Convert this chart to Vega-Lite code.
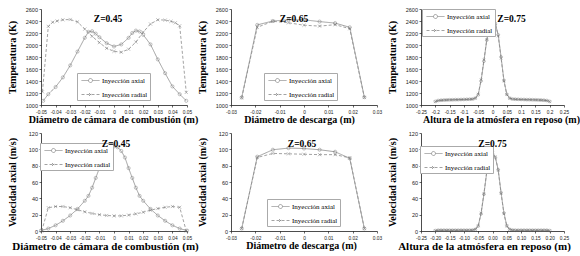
{
  "$schema": "https://vega.github.io/schema/vega-lite/v6.json",
  "padding": {"left": 7, "top": 7, "right": 0, "bottom": 0},
  "spacing": 6,
  "resolve": {"scale": {"shape": "independent", "strokeDash": "independent", "color": "independent"}, "legend": {"shape": "independent", "strokeDash": "independent", "color": "independent"}},
  "config": {
    "view": {"stroke": null},
    "font": "Liberation Serif",
    "axis": {"grid": false, "labelOverlap": false, "domainColor": "#000", "domainWidth": 0.7, "tickColor": "#000", "tickSize": 2, "tickWidth": 0.6, "labelFont": "Liberation Sans", "labelFontSize": 5.5, "labelColor": "#222", "labelPadding": 1.5, "titleFont": "Liberation Serif", "titleFontSize": 10, "titleFontWeight": "bold", "titleColor": "#000"},
    "axisY": {"minExtent": 16, "maxExtent": 16, "titlePadding": 8, "format": "d", "labelFlush": false},
    "axisX": {"labelPadding": 2.5, "titlePadding": 0.5, "labelFontSize": 4.8, "labelFlush": false},
    "title": {"font": "Liberation Serif", "fontSize": 9.5, "fontWeight": "bold", "color": "#000", "offset": -16, "anchor": "middle"},
    "legend": {"orient": "none", "title": null, "labelFont": "Liberation Serif", "labelFontSize": 7, "labelFontWeight": "normal", "labelColor": "#000", "strokeColor": "#aaa", "fillColor": "#fff", "padding": 2, "rowPadding": 4, "symbolSize": 100, "labelOffset": 12, "symbolStrokeWidth": 0.8}
  },
  "vconcat": [
    {
      "bounds": "flush",
      "spacing": 44,
      "resolve": {"scale": {"shape": "independent", "strokeDash": "independent", "color": "independent"}, "legend": {"shape": "independent", "strokeDash": "independent", "color": "independent"}},
      "hconcat": [
        {
          "width": 146, "height": 96,
          "title": {"text": "Z=0.45", "dx": -6},
          "data": {"values": [
            {"s": "Inyección axial", "x": -0.0485, "v": 1070},
            {"s": "Inyección axial", "x": -0.045, "v": 1180},
            {"s": "Inyección axial", "x": -0.04, "v": 1300},
            {"s": "Inyección axial", "x": -0.035, "v": 1460},
            {"s": "Inyección axial", "x": -0.03, "v": 1660},
            {"s": "Inyección axial", "x": -0.025, "v": 1890},
            {"s": "Inyección axial", "x": -0.02, "v": 2120},
            {"s": "Inyección axial", "x": -0.0175, "v": 2220},
            {"s": "Inyección axial", "x": -0.015, "v": 2230},
            {"s": "Inyección axial", "x": -0.0125, "v": 2190},
            {"s": "Inyección axial", "x": -0.01, "v": 2130},
            {"s": "Inyección axial", "x": -0.005, "v": 2030},
            {"s": "Inyección axial", "x": 0, "v": 1975},
            {"s": "Inyección axial", "x": 0.005, "v": 2010},
            {"s": "Inyección axial", "x": 0.01, "v": 2120},
            {"s": "Inyección axial", "x": 0.0125, "v": 2200},
            {"s": "Inyección axial", "x": 0.015, "v": 2240},
            {"s": "Inyección axial", "x": 0.0175, "v": 2225},
            {"s": "Inyección axial", "x": 0.02, "v": 2170},
            {"s": "Inyección axial", "x": 0.025, "v": 2010},
            {"s": "Inyección axial", "x": 0.03, "v": 1760},
            {"s": "Inyección axial", "x": 0.035, "v": 1530},
            {"s": "Inyección axial", "x": 0.04, "v": 1310},
            {"s": "Inyección axial", "x": 0.045, "v": 1180},
            {"s": "Inyección axial", "x": 0.0495, "v": 1070},
            {"s": "Inyección radial", "x": -0.049, "v": 1220},
            {"s": "Inyección radial", "x": -0.045, "v": 2310},
            {"s": "Inyección radial", "x": -0.042, "v": 2380},
            {"s": "Inyección radial", "x": -0.039, "v": 2400},
            {"s": "Inyección radial", "x": -0.035, "v": 2420},
            {"s": "Inyección radial", "x": -0.03, "v": 2425},
            {"s": "Inyección radial", "x": -0.025, "v": 2385},
            {"s": "Inyección radial", "x": -0.02, "v": 2265},
            {"s": "Inyección radial", "x": -0.015, "v": 2145},
            {"s": "Inyección radial", "x": -0.01, "v": 2040},
            {"s": "Inyección radial", "x": -0.005, "v": 1945},
            {"s": "Inyección radial", "x": 0, "v": 1895},
            {"s": "Inyección radial", "x": 0.005, "v": 1880},
            {"s": "Inyección radial", "x": 0.01, "v": 1930},
            {"s": "Inyección radial", "x": 0.015, "v": 2050},
            {"s": "Inyección radial", "x": 0.02, "v": 2215},
            {"s": "Inyección radial", "x": 0.025, "v": 2350},
            {"s": "Inyección radial", "x": 0.03, "v": 2420},
            {"s": "Inyección radial", "x": 0.035, "v": 2415},
            {"s": "Inyección radial", "x": 0.039, "v": 2395},
            {"s": "Inyección radial", "x": 0.042, "v": 2370},
            {"s": "Inyección radial", "x": 0.045, "v": 2320},
            {"s": "Inyección radial", "x": 0.0495, "v": 1210}
          ]},
          "encoding": {
            "x": {"field": "x", "type": "quantitative", "scale": {"domain": [-0.05, 0.05], "nice": false}, "axis": {"values": [-0.05, -0.04, -0.03, -0.02, -0.01, 0, 0.01, 0.02, 0.03, 0.04, 0.05], "labelExpr": "toString(datum.value)", "title": "Diámetro de cámara de combustión (m)", "titleX": 72}},
            "y": {"field": "v", "type": "quantitative", "scale": {"domain": [1000, 2600], "nice": false, "zero": false}, "axis": {"values": [1000, 1200, 1400, 1600, 1800, 2000, 2200, 2400, 2600], "title": "Temperatura (K)"}}
          },
          "layer": [
            {"mark": {"type": "line", "strokeWidth": 0.8}, "encoding": {
              "color": {"field": "s", "type": "nominal", "scale": {"domain": ["Inyección axial", "Inyección radial"], "range": ["#8a8a8a", "#8a8a8a"]}, "legend": {"legendX": 36, "legendY": 64, "encode": {"symbols": {"update": {"shape": {"signal": "indexof(datum.value, 'radial') >= 0 ? 'M-0.6,0H3M0.9,-0.3L1.5,0.3M0.9,0.3L1.5,-0.3' : 'M-0.6,0H0.8M1.6,0H3M0.8,0A0.4,0.4,0,1,0,1.6,0A0.4,0.4,0,1,0,0.8,0'"}, "strokeDash": {"signal": "indexof(datum.value, 'radial') >= 0 ? [3, 2] : [1, 0]"}, "fill": {"value": "transparent"}}}}}},
              "strokeDash": {"field": "s", "type": "nominal", "scale": {"range": [[1, 0], [3, 2]]}, "legend": null}}},
            {"mark": {"type": "point", "size": 10, "strokeWidth": 0.6, "color": "#6a6a6a"}, "encoding": {"shape": {"field": "s", "type": "nominal", "scale": {"range": ["circle", "M-1,-1L1,1M-1,1L1,-1"]}, "legend": null}}}
          ]
        },
        {
          "width": 146, "height": 96,
          "title": {"text": "Z=0.65", "dx": -10},
          "data": {"values": [
            {"s": "Inyección axial", "x": -0.0256, "v": 1125},
            {"s": "Inyección axial", "x": -0.0192, "v": 2335},
            {"s": "Inyección axial", "x": -0.0128, "v": 2400},
            {"s": "Inyección axial", "x": -0.0064, "v": 2420},
            {"s": "Inyección axial", "x": 0, "v": 2420},
            {"s": "Inyección axial", "x": 0.0064, "v": 2390},
            {"s": "Inyección axial", "x": 0.0128, "v": 2365},
            {"s": "Inyección axial", "x": 0.0188, "v": 2295},
            {"s": "Inyección axial", "x": 0.0248, "v": 1130},
            {"s": "Inyección radial", "x": -0.0256, "v": 1120},
            {"s": "Inyección radial", "x": -0.0192, "v": 2295},
            {"s": "Inyección radial", "x": -0.0128, "v": 2395},
            {"s": "Inyección radial", "x": -0.0064, "v": 2370},
            {"s": "Inyección radial", "x": 0, "v": 2330},
            {"s": "Inyección radial", "x": 0.0064, "v": 2315},
            {"s": "Inyección radial", "x": 0.0128, "v": 2338},
            {"s": "Inyección radial", "x": 0.0188, "v": 2272},
            {"s": "Inyección radial", "x": 0.0248, "v": 1125}
          ]},
          "encoding": {
            "x": {"field": "x", "type": "quantitative", "scale": {"domain": [-0.03, 0.03], "nice": false}, "axis": {"values": [-0.03, -0.02, -0.01, 0, 0.01, 0.02, 0.03], "labelExpr": "toString(datum.value)", "title": "Diámetro de descarga (m)", "titleX": 68}},
            "y": {"field": "v", "type": "quantitative", "scale": {"domain": [1000, 2600], "nice": false, "zero": false}, "axis": {"values": [1000, 1200, 1400, 1600, 1800, 2000, 2200, 2400, 2600], "title": "Temperatura (K)"}}
          },
          "layer": [
            {"mark": {"type": "line", "strokeWidth": 0.8}, "encoding": {
              "color": {"field": "s", "type": "nominal", "scale": {"domain": ["Inyección axial", "Inyección radial"], "range": ["#8a8a8a", "#8a8a8a"]}, "legend": {"legendX": 33, "legendY": 64, "encode": {"symbols": {"update": {"shape": {"signal": "indexof(datum.value, 'radial') >= 0 ? 'M-0.6,0H3M0.9,-0.3L1.5,0.3M0.9,0.3L1.5,-0.3' : 'M-0.6,0H0.8M1.6,0H3M0.8,0A0.4,0.4,0,1,0,1.6,0A0.4,0.4,0,1,0,0.8,0'"}, "strokeDash": {"signal": "indexof(datum.value, 'radial') >= 0 ? [3, 2] : [1, 0]"}, "fill": {"value": "transparent"}}}}}},
              "strokeDash": {"field": "s", "type": "nominal", "scale": {"range": [[1, 0], [3, 2]]}, "legend": null}}},
            {"mark": {"type": "point", "size": 10, "strokeWidth": 0.6, "color": "#6a6a6a"}, "encoding": {"shape": {"field": "s", "type": "nominal", "scale": {"range": ["circle", "M-1,-1L1,1M-1,1L1,-1"]}, "legend": null}}}
          ]
        },
        {
          "width": 143, "height": 96,
          "title": {"text": "Z=0.75", "dx": 19},
          "data": {"values": [
            {"s": "Inyección axial", "x": -0.2, "v": 1060},
            {"s": "Inyección axial", "x": -0.19, "v": 1075},
            {"s": "Inyección axial", "x": -0.18, "v": 1080},
            {"s": "Inyección axial", "x": -0.17, "v": 1083},
            {"s": "Inyección axial", "x": -0.16, "v": 1085},
            {"s": "Inyección axial", "x": -0.15, "v": 1087},
            {"s": "Inyección axial", "x": -0.14, "v": 1088},
            {"s": "Inyección axial", "x": -0.13, "v": 1090},
            {"s": "Inyección axial", "x": -0.12, "v": 1090},
            {"s": "Inyección axial", "x": -0.11, "v": 1092},
            {"s": "Inyección axial", "x": -0.1, "v": 1093},
            {"s": "Inyección axial", "x": -0.09, "v": 1095},
            {"s": "Inyección axial", "x": -0.08, "v": 1097},
            {"s": "Inyección axial", "x": -0.07, "v": 1100},
            {"s": "Inyección axial", "x": -0.06, "v": 1115},
            {"s": "Inyección axial", "x": -0.05, "v": 1170},
            {"s": "Inyección axial", "x": -0.04, "v": 1400},
            {"s": "Inyección axial", "x": -0.03, "v": 1730},
            {"s": "Inyección axial", "x": -0.02, "v": 2080},
            {"s": "Inyección axial", "x": -0.01, "v": 2320},
            {"s": "Inyección axial", "x": -0.005, "v": 2390},
            {"s": "Inyección axial", "x": 0, "v": 2420},
            {"s": "Inyección axial", "x": 0.005, "v": 2405},
            {"s": "Inyección axial", "x": 0.01, "v": 2350},
            {"s": "Inyección axial", "x": 0.02, "v": 2170},
            {"s": "Inyección axial", "x": 0.03, "v": 1800},
            {"s": "Inyección axial", "x": 0.04, "v": 1410},
            {"s": "Inyección axial", "x": 0.05, "v": 1180},
            {"s": "Inyección axial", "x": 0.06, "v": 1115},
            {"s": "Inyección axial", "x": 0.07, "v": 1100},
            {"s": "Inyección axial", "x": 0.08, "v": 1097},
            {"s": "Inyección axial", "x": 0.09, "v": 1095},
            {"s": "Inyección axial", "x": 0.1, "v": 1093},
            {"s": "Inyección axial", "x": 0.11, "v": 1092},
            {"s": "Inyección axial", "x": 0.12, "v": 1090},
            {"s": "Inyección axial", "x": 0.13, "v": 1090},
            {"s": "Inyección axial", "x": 0.14, "v": 1088},
            {"s": "Inyección axial", "x": 0.15, "v": 1087},
            {"s": "Inyección axial", "x": 0.16, "v": 1085},
            {"s": "Inyección axial", "x": 0.17, "v": 1083},
            {"s": "Inyección axial", "x": 0.18, "v": 1080},
            {"s": "Inyección axial", "x": 0.19, "v": 1075},
            {"s": "Inyección axial", "x": 0.2, "v": 1060},
            {"s": "Inyección radial", "x": -0.2, "v": 1055},
            {"s": "Inyección radial", "x": -0.19, "v": 1072},
            {"s": "Inyección radial", "x": -0.18, "v": 1077},
            {"s": "Inyección radial", "x": -0.17, "v": 1080},
            {"s": "Inyección radial", "x": -0.16, "v": 1082},
            {"s": "Inyección radial", "x": -0.15, "v": 1084},
            {"s": "Inyección radial", "x": -0.14, "v": 1085},
            {"s": "Inyección radial", "x": -0.13, "v": 1087},
            {"s": "Inyección radial", "x": -0.12, "v": 1087},
            {"s": "Inyección radial", "x": -0.11, "v": 1089},
            {"s": "Inyección radial", "x": -0.1, "v": 1090},
            {"s": "Inyección radial", "x": -0.09, "v": 1092},
            {"s": "Inyección radial", "x": -0.08, "v": 1094},
            {"s": "Inyección radial", "x": -0.07, "v": 1097},
            {"s": "Inyección radial", "x": -0.06, "v": 1112},
            {"s": "Inyección radial", "x": -0.05, "v": 1180},
            {"s": "Inyección radial", "x": -0.04, "v": 1420},
            {"s": "Inyección radial", "x": -0.03, "v": 1750},
            {"s": "Inyección radial", "x": -0.02, "v": 2090},
            {"s": "Inyección radial", "x": -0.01, "v": 2310},
            {"s": "Inyección radial", "x": -0.005, "v": 2370},
            {"s": "Inyección radial", "x": 0, "v": 2385},
            {"s": "Inyección radial", "x": 0.005, "v": 2390},
            {"s": "Inyección radial", "x": 0.01, "v": 2360},
            {"s": "Inyección radial", "x": 0.02, "v": 2150},
            {"s": "Inyección radial", "x": 0.03, "v": 1780},
            {"s": "Inyección radial", "x": 0.04, "v": 1400},
            {"s": "Inyección radial", "x": 0.05, "v": 1175},
            {"s": "Inyección radial", "x": 0.06, "v": 1112},
            {"s": "Inyección radial", "x": 0.07, "v": 1097},
            {"s": "Inyección radial", "x": 0.08, "v": 1094},
            {"s": "Inyección radial", "x": 0.09, "v": 1092},
            {"s": "Inyección radial", "x": 0.1, "v": 1090},
            {"s": "Inyección radial", "x": 0.11, "v": 1089},
            {"s": "Inyección radial", "x": 0.12, "v": 1087},
            {"s": "Inyección radial", "x": 0.13, "v": 1087},
            {"s": "Inyección radial", "x": 0.14, "v": 1085},
            {"s": "Inyección radial", "x": 0.15, "v": 1084},
            {"s": "Inyección radial", "x": 0.16, "v": 1082},
            {"s": "Inyección radial", "x": 0.17, "v": 1080},
            {"s": "Inyección radial", "x": 0.18, "v": 1077},
            {"s": "Inyección radial", "x": 0.19, "v": 1072},
            {"s": "Inyección radial", "x": 0.2, "v": 1055}
          ]},
          "encoding": {
            "x": {"field": "x", "type": "quantitative", "scale": {"domain": [-0.25, 0.25], "nice": false}, "axis": {"values": [-0.25, -0.2, -0.15, -0.1, -0.05, 0, 0.05, 0.1, 0.15, 0.2, 0.25], "labelExpr": "toString(datum.value)", "title": "Altura de la atmósfera en reposo (m)", "titleX": 80}},
            "y": {"field": "v", "type": "quantitative", "scale": {"domain": [1000, 2600], "nice": false, "zero": false}, "axis": {"values": [1000, 1200, 1400, 1600, 1800, 2000, 2200, 2400, 2600], "title": "Temperatura (K)"}}
          },
          "layer": [
            {"mark": {"type": "line", "strokeWidth": 0.8}, "encoding": {
              "color": {"field": "s", "type": "nominal", "scale": {"domain": ["Inyección axial", "Inyección radial"], "range": ["#8a8a8a", "#8a8a8a"]}, "legend": {"legendX": 1, "legendY": 0, "encode": {"symbols": {"update": {"shape": {"signal": "indexof(datum.value, 'radial') >= 0 ? 'M-0.6,0H3M0.9,-0.3L1.5,0.3M0.9,0.3L1.5,-0.3' : 'M-0.6,0H0.8M1.6,0H3M0.8,0A0.4,0.4,0,1,0,1.6,0A0.4,0.4,0,1,0,0.8,0'"}, "strokeDash": {"signal": "indexof(datum.value, 'radial') >= 0 ? [3, 2] : [1, 0]"}, "fill": {"value": "transparent"}}}}}},
              "strokeDash": {"field": "s", "type": "nominal", "scale": {"range": [[1, 0], [3, 2]]}, "legend": null}}},
            {"mark": {"type": "point", "size": 8, "strokeWidth": 0.5, "color": "#6a6a6a"}, "encoding": {"shape": {"field": "s", "type": "nominal", "scale": {"range": ["circle", "M-1,-1L1,1M-1,1L1,-1"]}, "legend": null}}}
          ]
        }
      ]
    },
    {
      "bounds": "flush",
      "spacing": 44,
      "resolve": {"scale": {"shape": "independent", "strokeDash": "independent", "color": "independent"}, "legend": {"shape": "independent", "strokeDash": "independent", "color": "independent"}},
      "hconcat": [
        {
          "width": 146, "height": 98,
          "title": {"text": "Z=0.45", "dx": 2, "offset": -17},
          "data": {"values": [
            {"s": "Inyección axial", "x": -0.05, "v": 0.5},
            {"s": "Inyección axial", "x": -0.045, "v": 3},
            {"s": "Inyección axial", "x": -0.04, "v": 7},
            {"s": "Inyección axial", "x": -0.035, "v": 12.5},
            {"s": "Inyección axial", "x": -0.03, "v": 19},
            {"s": "Inyección axial", "x": -0.025, "v": 27},
            {"s": "Inyección axial", "x": -0.02, "v": 37},
            {"s": "Inyección axial", "x": -0.0175, "v": 43},
            {"s": "Inyección axial", "x": -0.015, "v": 53},
            {"s": "Inyección axial", "x": -0.0125, "v": 65},
            {"s": "Inyección axial", "x": -0.01, "v": 77},
            {"s": "Inyección axial", "x": -0.0075, "v": 90},
            {"s": "Inyección axial", "x": -0.005, "v": 98},
            {"s": "Inyección axial", "x": -0.0025, "v": 102.5},
            {"s": "Inyección axial", "x": 0, "v": 103.5},
            {"s": "Inyección axial", "x": 0.0025, "v": 102.5},
            {"s": "Inyección axial", "x": 0.005, "v": 98},
            {"s": "Inyección axial", "x": 0.0075, "v": 90},
            {"s": "Inyección axial", "x": 0.01, "v": 77},
            {"s": "Inyección axial", "x": 0.0125, "v": 65},
            {"s": "Inyección axial", "x": 0.015, "v": 53},
            {"s": "Inyección axial", "x": 0.0175, "v": 43},
            {"s": "Inyección axial", "x": 0.02, "v": 37},
            {"s": "Inyección axial", "x": 0.025, "v": 27},
            {"s": "Inyección axial", "x": 0.03, "v": 19},
            {"s": "Inyección axial", "x": 0.035, "v": 12.5},
            {"s": "Inyección axial", "x": 0.04, "v": 7},
            {"s": "Inyección axial", "x": 0.045, "v": 3},
            {"s": "Inyección axial", "x": 0.05, "v": 0.5},
            {"s": "Inyección radial", "x": -0.0495, "v": 0},
            {"s": "Inyección radial", "x": -0.045, "v": 28.5},
            {"s": "Inyección radial", "x": -0.04, "v": 30},
            {"s": "Inyección radial", "x": -0.035, "v": 30},
            {"s": "Inyección radial", "x": -0.03, "v": 28.5},
            {"s": "Inyección radial", "x": -0.025, "v": 26},
            {"s": "Inyección radial", "x": -0.02, "v": 23.5},
            {"s": "Inyección radial", "x": -0.015, "v": 21.5},
            {"s": "Inyección radial", "x": -0.01, "v": 20},
            {"s": "Inyección radial", "x": -0.005, "v": 19},
            {"s": "Inyección radial", "x": 0, "v": 18.5},
            {"s": "Inyección radial", "x": 0.005, "v": 18.5},
            {"s": "Inyección radial", "x": 0.01, "v": 19.5},
            {"s": "Inyección radial", "x": 0.015, "v": 21},
            {"s": "Inyección radial", "x": 0.02, "v": 23},
            {"s": "Inyección radial", "x": 0.025, "v": 25.5},
            {"s": "Inyección radial", "x": 0.03, "v": 27.5},
            {"s": "Inyección radial", "x": 0.035, "v": 29},
            {"s": "Inyección radial", "x": 0.04, "v": 30},
            {"s": "Inyección radial", "x": 0.045, "v": 29},
            {"s": "Inyección radial", "x": 0.0495, "v": 0}
          ]},
          "encoding": {
            "x": {"field": "x", "type": "quantitative", "scale": {"domain": [-0.05, 0.05], "nice": false}, "axis": {"values": [-0.05, -0.04, -0.03, -0.02, -0.01, 0, 0.01, 0.02, 0.03, 0.04, 0.05], "labelExpr": "toString(datum.value)", "title": "Diámetro de cámara de combustión (m)", "titleX": 64, "titleFontSize": 11}},
            "y": {"field": "v", "type": "quantitative", "scale": {"domain": [0, 120], "nice": false}, "axis": {"values": [0, 20, 40, 60, 80, 100, 120], "title": "Velocidad axial (m/s)"}}
          },
          "layer": [
            {"mark": {"type": "line", "strokeWidth": 0.8}, "encoding": {
              "color": {"field": "s", "type": "nominal", "scale": {"domain": ["Inyección axial", "Inyección radial"], "range": ["#8a8a8a", "#8a8a8a"]}, "legend": {"legendX": -1, "legendY": 10, "encode": {"symbols": {"update": {"shape": {"signal": "indexof(datum.value, 'radial') >= 0 ? 'M-0.6,0H3M0.9,-0.3L1.5,0.3M0.9,0.3L1.5,-0.3' : 'M-0.6,0H0.8M1.6,0H3M0.8,0A0.4,0.4,0,1,0,1.6,0A0.4,0.4,0,1,0,0.8,0'"}, "strokeDash": {"signal": "indexof(datum.value, 'radial') >= 0 ? [3, 2] : [1, 0]"}, "fill": {"value": "transparent"}}}}}},
              "strokeDash": {"field": "s", "type": "nominal", "scale": {"range": [[1, 0], [3, 2]]}, "legend": null}}},
            {"mark": {"type": "point", "size": 10, "strokeWidth": 0.6, "color": "#6a6a6a"}, "encoding": {"shape": {"field": "s", "type": "nominal", "scale": {"range": ["circle", "M-1,-1L1,1M-1,1L1,-1"]}, "legend": null}}}
          ]
        },
        {
          "width": 146, "height": 98,
          "title": {"text": "Z=0.65", "dx": -2, "offset": -17},
          "data": {"values": [
            {"s": "Inyección axial", "x": -0.0256, "v": 3},
            {"s": "Inyección axial", "x": -0.0192, "v": 91},
            {"s": "Inyección axial", "x": -0.0128, "v": 99.5},
            {"s": "Inyección axial", "x": -0.0064, "v": 101.5},
            {"s": "Inyección axial", "x": 0, "v": 101},
            {"s": "Inyección axial", "x": 0.0064, "v": 99.5},
            {"s": "Inyección axial", "x": 0.0128, "v": 97},
            {"s": "Inyección axial", "x": 0.0188, "v": 89},
            {"s": "Inyección axial", "x": 0.0248, "v": 3},
            {"s": "Inyección radial", "x": -0.0256, "v": 3},
            {"s": "Inyección radial", "x": -0.0192, "v": 90},
            {"s": "Inyección radial", "x": -0.0128, "v": 95},
            {"s": "Inyección radial", "x": -0.0064, "v": 94.5},
            {"s": "Inyección radial", "x": 0, "v": 94},
            {"s": "Inyección radial", "x": 0.0064, "v": 93.5},
            {"s": "Inyección radial", "x": 0.0128, "v": 93.5},
            {"s": "Inyección radial", "x": 0.0188, "v": 89.5},
            {"s": "Inyección radial", "x": 0.0248, "v": 3}
          ]},
          "encoding": {
            "x": {"field": "x", "type": "quantitative", "scale": {"domain": [-0.03, 0.03], "nice": false}, "axis": {"values": [-0.03, -0.02, -0.01, 0, 0.01, 0.02, 0.03], "labelExpr": "toString(datum.value)", "title": "Diámetro de descarga (m)", "titleX": 70}},
            "y": {"field": "v", "type": "quantitative", "scale": {"domain": [0, 120], "nice": false}, "axis": {"values": [0, 20, 40, 60, 80, 100, 120], "title": "Velocidad axial (m/s)"}}
          },
          "layer": [
            {"mark": {"type": "line", "strokeWidth": 0.8}, "encoding": {
              "color": {"field": "s", "type": "nominal", "scale": {"domain": ["Inyección axial", "Inyección radial"], "range": ["#8a8a8a", "#8a8a8a"]}, "legend": {"legendX": 36, "legendY": 66, "encode": {"symbols": {"update": {"shape": {"signal": "indexof(datum.value, 'radial') >= 0 ? 'M-0.6,0H3M0.9,-0.3L1.5,0.3M0.9,0.3L1.5,-0.3' : 'M-0.6,0H0.8M1.6,0H3M0.8,0A0.4,0.4,0,1,0,1.6,0A0.4,0.4,0,1,0,0.8,0'"}, "strokeDash": {"signal": "indexof(datum.value, 'radial') >= 0 ? [3, 2] : [1, 0]"}, "fill": {"value": "transparent"}}}}}},
              "strokeDash": {"field": "s", "type": "nominal", "scale": {"range": [[1, 0], [3, 2]]}, "legend": null}}},
            {"mark": {"type": "point", "size": 10, "strokeWidth": 0.6, "color": "#6a6a6a"}, "encoding": {"shape": {"field": "s", "type": "nominal", "scale": {"range": ["circle", "M-1,-1L1,1M-1,1L1,-1"]}, "legend": null}}}
          ]
        },
        {
          "width": 143, "height": 98,
          "title": {"text": "Z=0.75", "dx": 0, "offset": -17},
          "data": {"values": [
            {"s": "Inyección axial", "x": -0.2, "v": 0.5},
            {"s": "Inyección axial", "x": -0.19, "v": 1},
            {"s": "Inyección axial", "x": -0.18, "v": 1},
            {"s": "Inyección axial", "x": -0.17, "v": 1},
            {"s": "Inyección axial", "x": -0.16, "v": 1},
            {"s": "Inyección axial", "x": -0.15, "v": 1},
            {"s": "Inyección axial", "x": -0.14, "v": 1},
            {"s": "Inyección axial", "x": -0.13, "v": 1},
            {"s": "Inyección axial", "x": -0.12, "v": 1},
            {"s": "Inyección axial", "x": -0.11, "v": 1},
            {"s": "Inyección axial", "x": -0.1, "v": 1},
            {"s": "Inyección axial", "x": -0.09, "v": 1},
            {"s": "Inyección axial", "x": -0.08, "v": 1},
            {"s": "Inyección axial", "x": -0.07, "v": 1.2},
            {"s": "Inyección axial", "x": -0.06, "v": 2},
            {"s": "Inyección axial", "x": -0.05, "v": 6},
            {"s": "Inyección axial", "x": -0.04, "v": 21},
            {"s": "Inyección axial", "x": -0.03, "v": 45},
            {"s": "Inyección axial", "x": -0.02, "v": 72},
            {"s": "Inyección axial", "x": -0.01, "v": 89},
            {"s": "Inyección axial", "x": 0, "v": 94.5},
            {"s": "Inyección axial", "x": 0.01, "v": 90},
            {"s": "Inyección axial", "x": 0.02, "v": 75},
            {"s": "Inyección axial", "x": 0.03, "v": 47},
            {"s": "Inyección axial", "x": 0.04, "v": 22},
            {"s": "Inyección axial", "x": 0.05, "v": 6.5},
            {"s": "Inyección axial", "x": 0.06, "v": 2},
            {"s": "Inyección axial", "x": 0.07, "v": 1.2},
            {"s": "Inyección axial", "x": 0.08, "v": 1},
            {"s": "Inyección axial", "x": 0.09, "v": 1},
            {"s": "Inyección axial", "x": 0.1, "v": 1},
            {"s": "Inyección axial", "x": 0.11, "v": 1},
            {"s": "Inyección axial", "x": 0.12, "v": 1},
            {"s": "Inyección axial", "x": 0.13, "v": 1},
            {"s": "Inyección axial", "x": 0.14, "v": 1},
            {"s": "Inyección axial", "x": 0.15, "v": 1},
            {"s": "Inyección axial", "x": 0.16, "v": 1},
            {"s": "Inyección axial", "x": 0.17, "v": 1},
            {"s": "Inyección axial", "x": 0.18, "v": 1},
            {"s": "Inyección axial", "x": 0.19, "v": 1},
            {"s": "Inyección axial", "x": 0.2, "v": 0.5},
            {"s": "Inyección radial", "x": -0.2, "v": 0.4},
            {"s": "Inyección radial", "x": -0.19, "v": 0.8},
            {"s": "Inyección radial", "x": -0.18, "v": 0.8},
            {"s": "Inyección radial", "x": -0.17, "v": 0.8},
            {"s": "Inyección radial", "x": -0.16, "v": 0.8},
            {"s": "Inyección radial", "x": -0.15, "v": 0.8},
            {"s": "Inyección radial", "x": -0.14, "v": 0.8},
            {"s": "Inyección radial", "x": -0.13, "v": 0.8},
            {"s": "Inyección radial", "x": -0.12, "v": 0.8},
            {"s": "Inyección radial", "x": -0.11, "v": 0.8},
            {"s": "Inyección radial", "x": -0.1, "v": 0.8},
            {"s": "Inyección radial", "x": -0.09, "v": 0.8},
            {"s": "Inyección radial", "x": -0.08, "v": 0.8},
            {"s": "Inyección radial", "x": -0.07, "v": 1},
            {"s": "Inyección radial", "x": -0.06, "v": 2},
            {"s": "Inyección radial", "x": -0.05, "v": 6.5},
            {"s": "Inyección radial", "x": -0.04, "v": 22},
            {"s": "Inyección radial", "x": -0.03, "v": 46},
            {"s": "Inyección radial", "x": -0.02, "v": 73},
            {"s": "Inyección radial", "x": -0.01, "v": 90},
            {"s": "Inyección radial", "x": 0, "v": 95.5},
            {"s": "Inyección radial", "x": 0.01, "v": 91},
            {"s": "Inyección radial", "x": 0.02, "v": 74},
            {"s": "Inyección radial", "x": 0.03, "v": 46},
            {"s": "Inyección radial", "x": 0.04, "v": 21},
            {"s": "Inyección radial", "x": 0.05, "v": 6},
            {"s": "Inyección radial", "x": 0.06, "v": 2},
            {"s": "Inyección radial", "x": 0.07, "v": 1},
            {"s": "Inyección radial", "x": 0.08, "v": 0.8},
            {"s": "Inyección radial", "x": 0.09, "v": 0.8},
            {"s": "Inyección radial", "x": 0.1, "v": 0.8},
            {"s": "Inyección radial", "x": 0.11, "v": 0.8},
            {"s": "Inyección radial", "x": 0.12, "v": 0.8},
            {"s": "Inyección radial", "x": 0.13, "v": 0.8},
            {"s": "Inyección radial", "x": 0.14, "v": 0.8},
            {"s": "Inyección radial", "x": 0.15, "v": 0.8},
            {"s": "Inyección radial", "x": 0.16, "v": 0.8},
            {"s": "Inyección radial", "x": 0.17, "v": 0.8},
            {"s": "Inyección radial", "x": 0.18, "v": 0.8},
            {"s": "Inyección radial", "x": 0.19, "v": 0.8},
            {"s": "Inyección radial", "x": 0.2, "v": 0.4}
          ]},
          "encoding": {
            "x": {"field": "x", "type": "quantitative", "scale": {"domain": [-0.25, 0.25], "nice": false}, "axis": {"values": [-0.25, -0.2, -0.15, -0.1, -0.05, 0, 0.05, 0.1, 0.15, 0.2, 0.25], "labelExpr": "(datum.value < 0 ? '-' : '') + format(abs(datum.value), '.2f')", "title": "Altura de la atmósfera en reposo (m)", "titleX": 63, "titleFontSize": 11}},
            "y": {"field": "v", "type": "quantitative", "scale": {"domain": [0, 120], "nice": false}, "axis": {"values": [0, 20, 40, 60, 80, 100, 120], "title": "Velocidad axial (m/s)"}}
          },
          "layer": [
            {"mark": {"type": "line", "strokeWidth": 0.8}, "encoding": {
              "color": {"field": "s", "type": "nominal", "scale": {"domain": ["Inyección axial", "Inyección radial"], "range": ["#8a8a8a", "#8a8a8a"]}, "legend": {"legendX": -1, "legendY": 13, "encode": {"symbols": {"update": {"shape": {"signal": "indexof(datum.value, 'radial') >= 0 ? 'M-0.6,0H3M0.9,-0.3L1.5,0.3M0.9,0.3L1.5,-0.3' : 'M-0.6,0H0.8M1.6,0H3M0.8,0A0.4,0.4,0,1,0,1.6,0A0.4,0.4,0,1,0,0.8,0'"}, "strokeDash": {"signal": "indexof(datum.value, 'radial') >= 0 ? [3, 2] : [1, 0]"}, "fill": {"value": "transparent"}}}}}},
              "strokeDash": {"field": "s", "type": "nominal", "scale": {"range": [[1, 0], [3, 2]]}, "legend": null}}},
            {"mark": {"type": "point", "size": 8, "strokeWidth": 0.5, "color": "#6a6a6a"}, "encoding": {"shape": {"field": "s", "type": "nominal", "scale": {"range": ["circle", "M-1,-1L1,1M-1,1L1,-1"]}, "legend": null}}}
          ]
        }
      ]
    }
  ]
}
